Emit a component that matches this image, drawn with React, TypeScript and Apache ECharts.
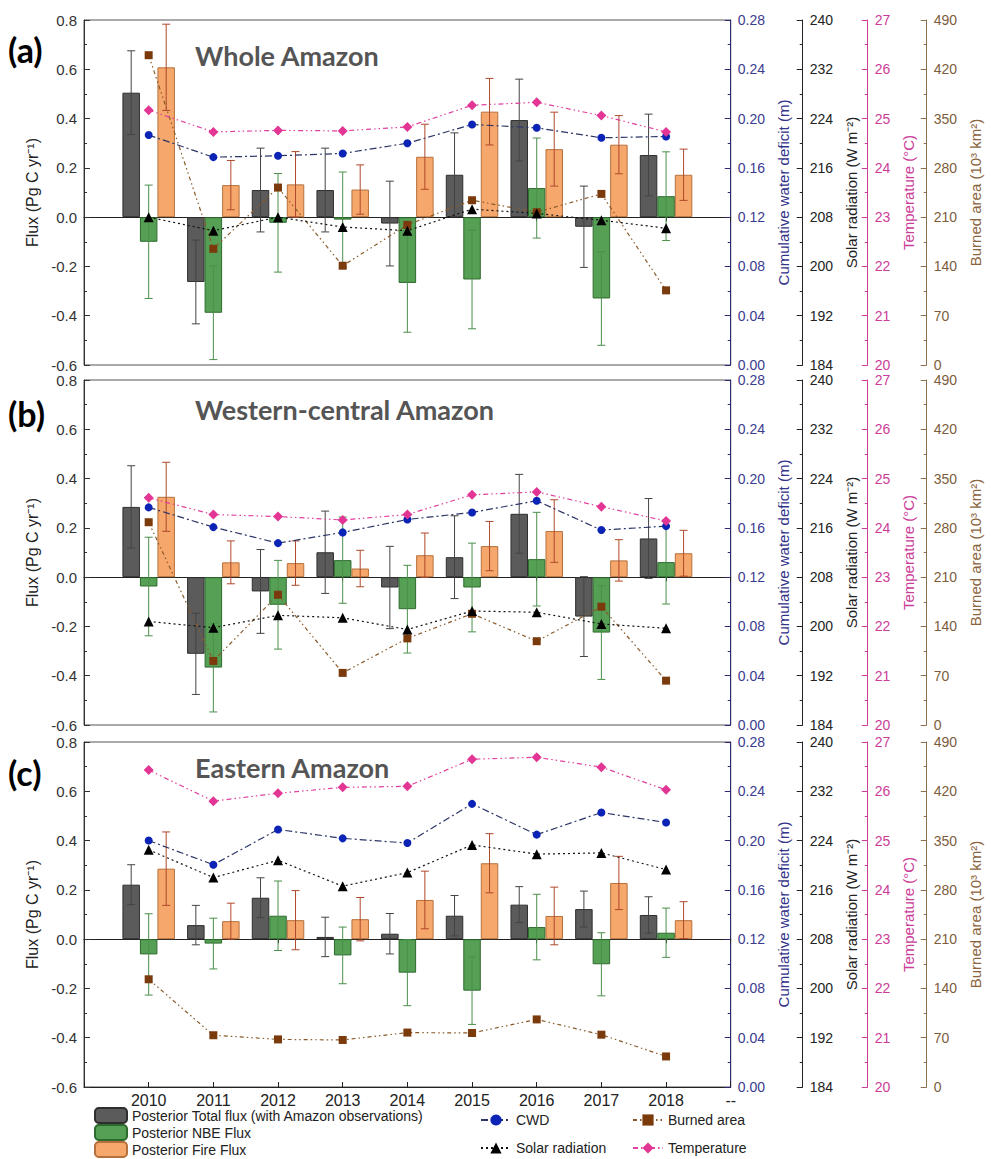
import React, { useEffect, useRef } from 'react';
import * as echarts from 'echarts';

// ---------- data ----------
const years = ['2010', '2011', '2012', '2013', '2014', '2015', '2016', '2017', '2018'];
const axisCats = ['2009', ...years, '2019'];

const panelTags = ['(a)', '(b)', '(c)'];
const panelNames = ['Whole Amazon', 'Western-central Amazon', 'Eastern Amazon'];

// Panel (a) Whole Amazon
const totalA = [0.505, -0.263, 0.11, 0.11, -0.026, 0.172, 0.394, -0.039, 0.252];
const totalErrA = [0.17, 0.17, 0.17, 0.17, 0.172, 0.17, 0.166, 0.165, 0.166];
const nbeA = [-0.1, -0.388, -0.023, -0.01, -0.267, -0.253, 0.118, -0.33, 0.085];
const nbeErrA = [0.23, 0.19, 0.2, 0.193, 0.2, 0.2, 0.203, 0.19, 0.18];
const fireA = [0.608, 0.13, 0.133, 0.112, 0.245, 0.428, 0.276, 0.294, 0.172];
const fireErrA = [0.175, 0.1, 0.133, 0.1, 0.132, 0.135, 0.15, 0.118, 0.104];
const cwdA = [0.1866, 0.1687, 0.1698, 0.1717, 0.18, 0.1952, 0.1925, 0.1844, 0.1855];
const solarA = [208.0, 205.8, 208.0, 206.4, 205.8, 209.3, 208.6, 207.5, 206.2];
const tempA = [25.17, 24.73, 24.76, 24.75, 24.83, 25.27, 25.33, 25.06, 24.73];
const burnedA = [440, 165, 252, 141, 199, 234, 217, 243, 106];

// Panel (b) Western-central Amazon
const totalB = [0.285, -0.311, -0.058, 0.101, -0.042, 0.081, 0.257, -0.16, 0.157];
const totalErrB = [0.167, 0.165, 0.17, 0.167, 0.167, 0.168, 0.16, 0.162, 0.162];
const nbeB = [-0.038, -0.367, -0.112, 0.069, -0.13, -0.042, 0.073, -0.225, 0.061];
const nbeErrB = [0.2, 0.18, 0.18, 0.175, 0.178, 0.18, 0.19, 0.19, 0.17];
const fireB = [0.326, 0.06, 0.057, 0.035, 0.089, 0.126, 0.187, 0.068, 0.097];
const fireErrB = [0.14, 0.087, 0.09, 0.074, 0.09, 0.1, 0.127, 0.084, 0.093];
const cwdB = [0.1766, 0.1606, 0.1476, 0.1563, 0.1668, 0.1725, 0.182, 0.1582, 0.1614];
const solarB = [200.8, 199.8, 201.8, 201.4, 199.5, 202.5, 202.3, 200.4, 199.7];
const tempB = [24.61, 24.27, 24.23, 24.16, 24.27, 24.67, 24.73, 24.43, 24.14];
const burnedB = [288, 91, 185, 74, 123, 158, 119, 168, 63];

// Panel (c) Eastern Amazon
const totalC = [0.221, 0.057, 0.168, 0.009, 0.022, 0.095, 0.14, 0.122, 0.098];
const totalErrC = [0.081, 0.08, 0.081, 0.08, 0.082, 0.082, 0.073, 0.073, 0.074];
const nbeC = [-0.062, -0.018, 0.095, -0.066, -0.136, -0.209, 0.049, -0.102, 0.026];
const nbeErrC = [0.165, 0.103, 0.141, 0.115, 0.134, 0.137, 0.133, 0.128, 0.1];
const fireC = [0.286, 0.073, 0.077, 0.081, 0.159, 0.308, 0.094, 0.228, 0.077];
const fireErrC = [0.149, 0.073, 0.12, 0.088, 0.117, 0.12, 0.117, 0.108, 0.075];
const cwdC = [0.2, 0.1804, 0.209, 0.2018, 0.198, 0.2298, 0.2048, 0.2228, 0.2146];
const solarC = [222.5, 218.0, 220.8, 216.6, 218.8, 223.3, 221.8, 222.0, 219.3];
const tempC = [26.43, 25.8, 25.96, 26.08, 26.1, 26.65, 26.69, 26.49, 26.03];
const burnedC = [153, 73.5, 67.6, 66.8, 77.3, 76.7, 96, 74.3, 43.4];

const L_TOTAL = 'Posterior Total flux (with Amazon observations)';
const L_NBE = 'Posterior NBE Flux';
const L_FIRE = 'Posterior Fire Flux';
const L_CWD = 'CWD';
const L_SOLAR = 'Solar radiation';
const L_TEMP = 'Temperature';
const L_BURN = 'Burned area';

const panels = [
  { total: totalA, totalErr: totalErrA, nbe: nbeA, nbeErr: nbeErrA, fire: fireA, fireErr: fireErrA, cwd: cwdA, solar: solarA, temp: tempA, burned: burnedA },
  { total: totalB, totalErr: totalErrB, nbe: nbeB, nbeErr: nbeErrB, fire: fireB, fireErr: fireErrB, cwd: cwdB, solar: solarB, temp: tempB, burned: burnedB },
  { total: totalC, totalErr: totalErrC, nbe: nbeC, nbeErr: nbeErrC, fire: fireC, fireErr: fireErrC, cwd: cwdC, solar: solarC, temp: tempC, burned: burnedC },
];

// ---------- styles ----------
const FONT = '"Liberation Sans", Arial, sans-serif';
const TITLE_FONT = 'Lato, "Open Sans", sans-serif';
const GRID_LEFT = 84;
const GRID_WIDTH = 657;
const GRID_HEIGHT = 345;
const GRID_TOPS = [20, 380, 742];
const BAR_W = 17.5;

const C_TOTAL = '#5b5b5b';
const C_NBE = '#56a056';
const C_FIRE = '#f6a76b';
const C_CWD_AX = '#2a2a78';
const C_TEMP_AX = '#cc3d99';
const C_BURN_AX = '#8e6f4f';

function makeErrorSeries(p: number, vals: number[], errs: number[], offset: number, color: string) {
  return {
    type: 'custom',
    xAxisIndex: p,
    yAxisIndex: p * 5,
    z: 5,
    silent: true,
    encode: { x: 0, y: [1, 2] },
    data: years.map((y, i) => [y, vals[i] - errs[i], vals[i] + errs[i]]),
    renderItem: (params: any, api: any) => {
      const xi = api.value(0);
      const lo = api.coord([xi, api.value(1)]);
      const hi = api.coord([xi, api.value(2)]);
      const x = lo[0] + offset;
      const cap = 4;
      const style = { stroke: color, lineWidth: 1 };
      return {
        type: 'group',
        children: [
          { type: 'line', shape: { x1: x, y1: lo[1], x2: x, y2: hi[1] }, style },
          { type: 'line', shape: { x1: x - cap, y1: lo[1], x2: x + cap, y2: lo[1] }, style },
          { type: 'line', shape: { x1: x - cap, y1: hi[1], x2: x + cap, y2: hi[1] }, style },
        ],
      };
    },
  };
}

function buildOption() {
  const grids: any[] = [];
  const xAxes: any[] = [];
  const yAxes: any[] = [];
  const series: any[] = [];
  const titles: any[] = [];

  const tagTops = [32, 396, 755];
  const nameTops = [42, 396, 754];

  panels.forEach((d, p) => {
    grids.push({
      left: GRID_LEFT,
      width: GRID_WIDTH,
      top: GRID_TOPS[p],
      height: GRID_HEIGHT,
      show: true,
      borderColor: '#555',
      borderWidth: 1,
      backgroundColor: 'transparent',
    });

    titles.push({
      text: panelTags[p], left: 8, top: tagTops[p], padding: 0,
      textStyle: { fontFamily: TITLE_FONT, fontSize: 34, fontWeight: 'bold', color: '#000' },
    });
    titles.push({
      text: panelNames[p], left: 195, top: nameTops[p], padding: 0,
      textStyle: { fontFamily: TITLE_FONT, fontSize: 27, fontWeight: 'bold', color: '#555' },
    });

    // x axis drawn at flux zero (indices 0,1,2)
    xAxes.push({
      gridIndex: p, type: 'category', data: axisCats, boundaryGap: false, position: 'bottom',
      axisLine: { show: true, onZero: true, lineStyle: { color: '#222', width: 1 } },
      axisTick: { show: true, length: 4, inside: false, lineStyle: { color: '#222' } },
      axisLabel: { show: false }, splitLine: { show: false },
    });
    const xi = p;
    const yb = p * 5;

    const common = (color: string, labelColor: string) => ({
      gridIndex: p, type: 'value', nameLocation: 'middle', nameRotate: 90,
      axisLine: { show: true, lineStyle: { color, width: 1 } },
      axisTick: { show: true, inside: true, length: 6, lineStyle: { color } },
      minorTick: { show: true, splitNumber: 2, length: 3, lineStyle: { color } },
      splitLine: { show: false },
      axisLabel: { fontSize: 14, color: labelColor, fontFamily: FONT, margin: 7 },
    });

    yAxes.push({
      ...common('#333', '#333'),
      position: 'left', min: -0.6, max: 0.8, interval: 0.2,
      name: 'Flux (Pg C yr⁻¹)', nameGap: 35,
      nameTextStyle: { fontSize: 16, color: '#222', fontFamily: FONT },
      axisLabel: { fontSize: 15, color: '#333', fontFamily: FONT, margin: 7, formatter: (v: number) => v.toFixed(1) },
    });
    yAxes.push({
      ...common(C_CWD_AX, '#3b3b8f'),
      position: 'right', offset: 0, min: 0, max: 0.28, interval: 0.04,
      name: 'Cumulative water deficit (m)', nameGap: 36,
      nameTextStyle: { fontSize: 15, color: '#33338a', fontFamily: FONT },
      axisLabel: { fontSize: 14, color: '#3b3b8f', fontFamily: FONT, margin: 7, formatter: (v: number) => v.toFixed(2) },
    });
    yAxes.push({
      ...common('#222', '#222'),
      position: 'right', offset: 72, min: 184, max: 240, interval: 8,
      name: 'Solar radiation (W m⁻²)', nameGap: 37,
      nameTextStyle: { fontSize: 15, color: '#222', fontFamily: FONT },
    });
    yAxes.push({
      ...common(C_TEMP_AX, C_TEMP_AX),
      position: 'right', offset: 137, min: 20, max: 27, interval: 1,
      name: 'Temperature (°C)', nameGap: 32,
      nameTextStyle: { fontSize: 15, color: C_TEMP_AX, fontFamily: FONT },
    });
    yAxes.push({
      ...common(C_BURN_AX, '#7d5c3c'),
      position: 'right', offset: 196, min: 0, max: 490, interval: 70,
      name: 'Burned area (10³ km²)', nameGap: 39,
      nameTextStyle: { fontSize: 15, color: '#8b6440', fontFamily: FONT },
    });

    const bar = (name: string, vals: number[], color: string, border: string) => ({
      name, type: 'bar', xAxisIndex: xi, yAxisIndex: yb, barWidth: BAR_W, barGap: '0%', z: 2,
      data: years.map((y, i) => [y, vals[i]]),
      itemStyle: { color, borderColor: border, borderWidth: 1 },
    });
    series.push(bar(L_TOTAL, d.total, C_TOTAL, '#2e2e2e'));
    series.push(bar(L_NBE, d.nbe, C_NBE, '#2d6a2d'));
    series.push(bar(L_FIRE, d.fire, C_FIRE, '#b5713d'));

    series.push(makeErrorSeries(p, d.total, d.totalErr, -BAR_W, '#444'));
    series.push(makeErrorSeries(p, d.nbe, d.nbeErr, 0, '#4a8f4a'));
    series.push(makeErrorSeries(p, d.fire, d.fireErr, BAR_W, '#b0482b'));

    const line = (name: string, vals: number[], yIdx: number, lineColor: string, dash: number[], symbol: string, symColor: string, size: number) => ({
      name, type: 'line', xAxisIndex: xi, yAxisIndex: yIdx, z: 6,
      data: years.map((y, i) => [y, vals[i]]),
      symbol, symbolSize: size,
      lineStyle: { color: lineColor, width: 1.2, type: dash },
      itemStyle: { color: symColor },
    });
    series.push(line(L_BURN, d.burned, yb + 4, '#8a5a2a', [4, 3, 1.5, 3, 1.5, 3], 'rect', '#7a3a0c', 8));
    series.push(line(L_SOLAR, d.solar, yb + 2, '#111', [2, 3], 'triangle', '#000', 10));
    series.push(line(L_CWD, d.cwd, yb + 1, '#2b3566', [7, 3, 2, 3], 'circle', '#0b24b5', 8));
    series.push(line(L_TEMP, d.temp, yb + 3, '#e0409f', [5, 3, 1.5, 3, 1.5, 3], 'diamond', '#e23594', 10));
  });

  // bottom labelled year axis of panel (c) (index 3)
  xAxes.push({
    gridIndex: 2, type: 'category', data: axisCats, boundaryGap: false, position: 'bottom',
    axisLine: { show: true, onZero: false, lineStyle: { color: '#222', width: 1 } },
    axisTick: { show: true, length: 5, inside: true, interval: 0, lineStyle: { color: '#222' } },
    axisLabel: {
      show: true, interval: 0, fontSize: 16, color: '#222', fontFamily: FONT, margin: 5,
      formatter: (v: string) => (years.includes(v) ? v : v === '2019' ? '--' : ''),
    },
    splitLine: { show: false },
  });

  const legendText = { fontSize: 14, color: '#222', fontFamily: FONT, lineHeight: 14 };

  return {
    animation: false,
    backgroundColor: '#fff',
    textStyle: { fontFamily: FONT },
    title: titles,
    grid: grids,
    xAxis: xAxes,
    yAxis: yAxes,
    legend: [
      {
        data: [L_TOTAL, L_NBE, L_FIRE], orient: 'vertical', left: 94, top: 1107, padding: 0,
        width: 400, height: 120,
        itemWidth: 32, itemHeight: 15, itemGap: 0, icon: 'roundRect',
        textStyle: legendText,
      },
      {
        data: [L_CWD, L_SOLAR], orient: 'vertical', left: 480, top: 1113, padding: 0,
        width: 140, height: 120,
        itemWidth: 30, itemHeight: 14, itemGap: 14,
        textStyle: legendText,
      },
      {
        data: [L_BURN, L_TEMP], orient: 'vertical', left: 632, top: 1113, padding: 0,
        width: 140, height: 120,
        itemWidth: 30, itemHeight: 14, itemGap: 14,
        textStyle: legendText,
      },
    ],
    series,
  };
}

export default function App() {
  const ref = useRef<HTMLDivElement>(null);
  useEffect(() => {
    if (!ref.current) return;
    const chart = echarts.init(ref.current, undefined, { renderer: 'svg' });
    chart.setOption(buildOption() as any);
    return () => chart.dispose();
  }, []);
  return (
    <div
      ref={ref}
      style={{ position: 'absolute', left: 0, top: 0, width: 991, height: 1159, background: '#fff' }}
    />
  );
}
